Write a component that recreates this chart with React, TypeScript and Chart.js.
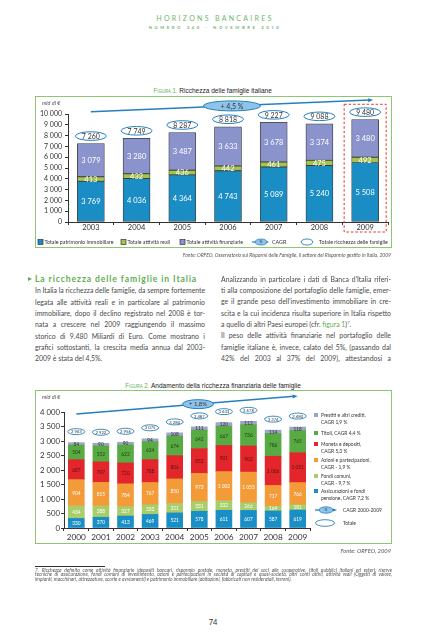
import React, { useEffect, useRef } from "react";
import { Chart, registerables } from "chart.js";
Chart.register(...registerables);

const FONT = "Lato, 'Open Sans', 'DejaVu Sans', sans-serif";

// ---------- Figura 1 data ----------
const years1 = ["2003", "2004", "2005", "2006", "2007", "2008", "2009"];
const immobiliare = [3769, 4036, 4364, 4743, 5089, 5240, 5508];
const attivitaReali = [413, 432, 436, 442, 461, 475, 492];
const attivitaFinanziarie = [3079, 3280, 3487, 3633, 3678, 3374, 3480];
const totaleRicchezza = [7260, 7749, 8287, 8818, 9227, 9088, 9480];
const cagrLabel1 = "+ 4,5 %";
const seriesNames1 = ["Totale patrimonio immobiliare", "Totale attività reali", "Totale attività finanziarie"];
const colors1 = ["#1b8dc5", "#a5c44c", "#8b93cd"];

// ---------- Figura 2 data ----------
const years2 = ["2000", "2001", "2002", "2003", "2004", "2005", "2006", "2007", "2008", "2009"];
const assicurazioni = [330, 370, 413, 469, 521, 578, 611, 607, 587, 619];
const fondiComuni = [434, 388, 327, 333, 321, 331, 332, 266, 164, 181];
const azioni = [904, 815, 784, 767, 850, 973, 1002, 1055, 717, 766];
const moneta = [687, 707, 720, 788, 806, 852, 901, 902, 1006, 1031];
const titoli = [504, 552, 622, 624, 674, 642, 667, 736, 786, 765];
const prestiti = [84, 90, 90, 94, 108, 111, 120, 112, 114, 118];
const totaleFinanziaria = [2943, 2922, 2956, 3075, 3280, 3487, 3633, 3678, 3374, 3480];
const cagrLabel2 = "+ 1,8%";
const seriesNames2 = ["Assicurazioni e fondi pensione", "Fondi comuni", "Azioni e partecipazioni", "Moneta e depositi", "Titoli", "Prestiti e altri crediti"];
const colors2 = ["#1a8fc6", "#a9cd6b", "#f29b38", "#e3262c", "#58ab42", "#9ea3c9"];
const labelColors2 = ["#ffffff", "#ffffff", "#ffffff", "#5a1010", "#1f3d12", "#333333"];
const legend2 = [
  { color: colors2[5], lines: ["Prestiti e altri crediti,", "CAGR 1,9 %"] },
  { color: colors2[4], lines: ["Titoli, CAGR 4,4 %"] },
  { color: colors2[3], lines: ["Moneta e depositi,", "CAGR 5,3 %"] },
  { color: colors2[2], lines: ["Azioni e partecipazioni,", "CAGR - 1,9 %"] },
  { color: colors2[1], lines: ["Fondi comuni,", "CAGR - 9,7 %"] },
  { color: colors2[0], lines: ["Assicurazioni e fondi", "pensione, CAGR 7,2 %"] },
];

const fmt = (n: number) =>
  n >= 1000 ? `${Math.floor(n / 1000)} ${String(n % 1000).padStart(3, "0")}` : String(n);

const BLUE_LINE = "#2580bd";

function drawEllipse(ctx: CanvasRenderingContext2D, cx: number, cy: number, rx: number, ry: number, fill: string | null, stroke: string | null, lw = 1) {
  ctx.beginPath();
  ctx.ellipse(cx, cy, rx, ry, 0, 0, Math.PI * 2);
  if (fill) { ctx.fillStyle = fill; ctx.fill(); }
  if (stroke) { ctx.strokeStyle = stroke; ctx.lineWidth = lw; ctx.stroke(); }
}

function drawArrow(ctx: CanvasRenderingContext2D, x1: number, y1: number, x2: number, y2: number, color: string, lw: number, head: number) {
  const a = Math.atan2(y2 - y1, x2 - x1);
  ctx.strokeStyle = color;
  ctx.lineWidth = lw;
  ctx.beginPath();
  ctx.moveTo(x1, y1);
  ctx.lineTo(x2 - Math.cos(a) * head * 0.7, y2 - Math.sin(a) * head * 0.7);
  ctx.stroke();
  ctx.fillStyle = color;
  ctx.beginPath();
  ctx.moveTo(x2, y2);
  ctx.lineTo(x2 - head * Math.cos(a) + head * 0.4 * Math.sin(a), y2 - head * Math.sin(a) - head * 0.4 * Math.cos(a));
  ctx.lineTo(x2 - head * Math.cos(a) - head * 0.4 * Math.sin(a), y2 - head * Math.sin(a) + head * 0.4 * Math.cos(a));
  ctx.closePath();
  ctx.fill();
}

const fig1Plugin = {
  id: "fig1",
  afterDatasetsDraw(chart: any) {
    const { ctx, chartArea } = chart;
    const x = chart.scales.x, y = chart.scales.y;
    ctx.save();
    ctx.textAlign = "center";
    ctx.textBaseline = "middle";
    chart.data.datasets.forEach((ds: any, di: number) => {
      chart.getDatasetMeta(di).data.forEach((el: any, i: number) => {
        ctx.fillStyle = "#ffffff";
        ctx.font = `7.5px ${FONT}`;
        ctx.fillText(fmt(ds.data[i]), el.x, (el.y + el.base) / 2 + 0.5);
      });
    });
    // highlight 2009
    const last = years1.length - 1;
    const hx = x.getPixelForValue(last);
    ctx.setLineDash([2.5, 2]);
    ctx.strokeStyle = "#e0342c";
    ctx.lineWidth = 1;
    ctx.strokeRect(hx - 21, y.getPixelForValue(10900), 42, chartArea.bottom + 10 - y.getPixelForValue(10900));
    ctx.setLineDash([]);
    // totals
    totaleRicchezza.forEach((v, i) => {
      const cx = x.getPixelForValue(i), cy = y.getPixelForValue(v) - 7.5;
      drawEllipse(ctx, cx, cy, 15.5, 4.3, "#ffffff", BLUE_LINE, 1);
      ctx.fillStyle = "#333";
      ctx.font = `7px ${FONT}`;
      ctx.fillText(fmt(v), cx, cy + 0.5);
    });
    // CAGR arrow
    const x1 = x.getPixelForValue(0), y1 = y.getPixelForValue(10200);
    const x2 = x.getPixelForValue(last) + 8, y2 = y.getPixelForValue(11300);
    drawArrow(ctx, x1, y1, x2, y2, BLUE_LINE, 1.5, 5);
    const mx = (x1 + x2) / 2, my = (y1 + y2) / 2;
    drawEllipse(ctx, mx, my, 28.5, 5, "#8ec4ea", BLUE_LINE, 1);
    ctx.fillStyle = "#333";
    ctx.font = `7px ${FONT}`;
    ctx.fillText(cagrLabel1, mx, my + 0.5);
    // legend
    const ly = chart.height - 6;
    const lx = [3, 86, 145];
    ctx.textAlign = "left";
    ctx.font = `5.3px ${FONT}`;
    seriesNames1.forEach((name, i) => {
      ctx.fillStyle = colors1[i];
      ctx.fillRect(lx[i], ly - 2.5, 5, 5);
      ctx.strokeStyle = "#333";
      ctx.lineWidth = 0.7;
      ctx.strokeRect(lx[i], ly - 2.5, 5, 5);
      ctx.fillStyle = "#333";
      ctx.fillText(name, lx[i] + 6.5, ly + 0.3);
    });
    drawArrow(ctx, 217, ly, 234, ly, BLUE_LINE, 1.2, 3.5);
    drawEllipse(ctx, 226, ly, 6, 3, "#8ec4ea", BLUE_LINE, 0.8);
    ctx.fillStyle = "#333";
    ctx.font = `3.5px ${FONT}`;
    ctx.textAlign = "center";
    ctx.fillText("%", 226, ly + 0.3);
    ctx.textAlign = "left";
    ctx.font = `5.3px ${FONT}`;
    ctx.fillText("CAGR", 237, ly + 0.3);
    drawEllipse(ctx, 272, ly, 5.8, 3, "#ffffff", BLUE_LINE, 0.9);
    ctx.fillStyle = "#333";
    ctx.fillText("Totale ricchezza delle famiglie", 284, ly + 0.3);
    ctx.restore();
  },
};

const fig2Plugin = {
  id: "fig2",
  afterDatasetsDraw(chart: any) {
    const { ctx } = chart;
    const x = chart.scales.x, y = chart.scales.y;
    ctx.save();
    ctx.textAlign = "center";
    ctx.textBaseline = "middle";
    chart.data.datasets.forEach((ds: any, di: number) => {
      chart.getDatasetMeta(di).data.forEach((el: any, i: number) => {
        ctx.fillStyle = labelColors2[di];
        ctx.font = `4.8px ${FONT}`;
        ctx.fillText(fmt(ds.data[i]), el.x, (el.y + el.base) / 2 + 0.3);
      });
    });
    totaleFinanziaria.forEach((v, i) => {
      const cx = x.getPixelForValue(i), cy = y.getPixelForValue(v) - 11;
      drawEllipse(ctx, cx, cy, 8.5, 3, "#ffffff", BLUE_LINE, 0.9);
      ctx.fillStyle = "#333";
      ctx.font = `4.2px ${FONT}`;
      ctx.fillText(fmt(v), cx, cy + 0.3);
    });
    const last = years2.length - 1;
    const x1 = x.getPixelForValue(0), y1 = y.getPixelForValue(3930);
    const x2 = x.getPixelForValue(last), y2 = y.getPixelForValue(4550);
    drawArrow(ctx, x1, y1, x2, y2, BLUE_LINE, 1.5, 5);
    const t = 0.55;
    const mx = x1 + (x2 - x1) * t, my = y1 + (y2 - y1) * t;
    drawEllipse(ctx, mx, my, 15.5, 4.5, "#8ec4ea", BLUE_LINE, 1);
    ctx.fillStyle = "#333";
    ctx.font = `6px ${FONT}`;
    ctx.fillText(cagrLabel2, mx, my + 0.4);
    // legend
    const ly = [25, 43, 54, 70, 86, 101];
    ctx.textAlign = "left";
    ctx.font = `4.9px ${FONT}`;
    legend2.forEach((item, i) => {
      ctx.fillStyle = item.color;
      ctx.fillRect(279, ly[i] - 2, 4, 4);
      ctx.fillStyle = "#333";
      item.lines.forEach((ln, j) => ctx.fillText(ln, 286, ly[i] + j * 7.6 + 0.3));
    });
    drawArrow(ctx, 280, 120, 302, 120, BLUE_LINE, 1.3, 4);
    drawEllipse(ctx, 291, 120, 7, 3.2, "#8ec4ea", BLUE_LINE, 0.8);
    ctx.fillStyle = "#333";
    ctx.font = `3.5px ${FONT}`;
    ctx.textAlign = "center";
    ctx.fillText("%", 291, 120.3);
    ctx.textAlign = "left";
    ctx.font = `4.9px ${FONT}`;
    ctx.fillText("CAGR 2000-2009", 308, 120.3);
    drawEllipse(ctx, 290, 133, 9.5, 3.3, "#ffffff", BLUE_LINE, 0.9);
    ctx.fillStyle = "#333";
    ctx.fillText("Totale", 308, 133.3);
    ctx.restore();
  },
};

function makeConfig1(): any {
  return {
    type: "bar",
    data: {
      labels: years1,
      datasets: [immobiliare, attivitaReali, attivitaFinanziarie].map((d, i) => ({
        label: seriesNames1[i],
        data: d,
        backgroundColor: colors1[i],
        borderColor: "#3c3c3c",
        borderWidth: 0.8,
        borderSkipped: false,
        barThickness: 27,
      })),
    },
    options: {
      animation: false,
      responsive: false,
      maintainAspectRatio: false,
      layout: { padding: { top: 18, bottom: 14, left: 0, right: 4 } },
      plugins: { legend: { display: false }, tooltip: { enabled: false } },
      scales: {
        x: {
          stacked: true,
          grid: { drawOnChartArea: false, drawTicks: true, tickLength: 3, color: "#333" },
          border: { color: "#333", width: 1 },
          ticks: { font: { family: FONT, size: 7.5 }, color: "#333", padding: -2, autoSkip: false, maxRotation: 0, minRotation: 0 },
          afterFit: (s: any) => { s.height = 12; },
        },
        y: {
          stacked: true,
          min: 0,
          max: 10000,
          ticks: { stepSize: 1000, autoSkip: false, callback: (v: any) => fmt(Number(v)), font: { family: FONT, size: 7 }, color: "#333", padding: 3 },
          grid: { drawOnChartArea: false, tickLength: 3, color: "#333" },
          border: { color: "#333", width: 1 },
          afterFit: (s: any) => { s.width = 33; },
        },
      },
    },
    plugins: [fig1Plugin],
  };
}

function makeConfig2(): any {
  return {
    type: "bar",
    data: {
      labels: years2,
      datasets: [assicurazioni, fondiComuni, azioni, moneta, titoli, prestiti].map((d, i) => ({
        label: seriesNames2[i],
        data: d,
        backgroundColor: colors2[i],
        borderWidth: 0,
        barThickness: 16,
      })),
    },
    options: {
      animation: false,
      responsive: false,
      maintainAspectRatio: false,
      layout: { padding: { top: 22, bottom: 0, left: 0, right: 82 } },
      plugins: { legend: { display: false }, tooltip: { enabled: false } },
      scales: {
        x: {
          stacked: true,
          grid: { drawOnChartArea: false, drawTicks: true, tickLength: 3, color: "#333" },
          border: { color: "#333", width: 1 },
          ticks: { font: { family: FONT, size: 8.3 }, color: "#333", padding: 1, autoSkip: false, maxRotation: 0, minRotation: 0 },
          afterFit: (s: any) => { s.height = 16; },
        },
        y: {
          stacked: true,
          min: 0,
          max: 4000,
          ticks: { stepSize: 500, autoSkip: false, callback: (v: any) => fmt(Number(v)), font: { family: FONT, size: 7.8 }, color: "#333", padding: 1 },
          grid: { drawOnChartArea: false, tickLength: 3, color: "#333" },
          border: { color: "#333", width: 1 },
          afterFit: (s: any) => { s.width = 29; },
        },
      },
    },
    plugins: [fig2Plugin],
  };
}

function ChartCanvas({ make, left, top, width, height }: any) {
  const ref = useRef<HTMLCanvasElement>(null);
  useEffect(() => {
    const chart = new Chart(ref.current as HTMLCanvasElement, make());
    return () => chart.destroy();
  }, []);
  return (
    <canvas
      ref={ref}
      width={width}
      height={height}
      style={{ position: "absolute", left, top, width, height }}
    />
  );
}

const GREEN = "#5fae52";
const TEXT = "#4a4a4a";

function TextLine({ x, y, w, children, just = true, size = 6.9, lh = 11 }: any) {
  return (
    <div
      style={{
        position: "absolute",
        left: x,
        top: y - lh / 2,
        width: w,
        height: lh,
        lineHeight: `${lh}px`,
        fontSize: size,
        fontFamily: FONT,
        color: TEXT,
        whiteSpace: "nowrap",
        textAlign: just ? "justify" : "left",
        textAlignLast: just ? "justify" : "left",
      } as any}
    >
      {children}
    </div>
  );
}

const leftLines = [
  "In Italia la ricchezza delle famiglie, da sempre fortemente",
  "legata alle attività reali e in particolare al patrimonio",
  "immobiliare, dopo il declino registrato nel 2008 è tor-",
  "nata a crescere nel 2009 raggiungendo il massimo",
  "storico di 9.480 Miliardi di Euro. Come mostrano i",
  "grafici sottostanti, la crescita media annua dal 2003-",
  "2009 è stata del 4,5%.",
];

const rightLinesA = [
  "Analizzando in particolare i dati di Banca d’Italia riferi-",
  "ti alla composizione del portafoglio delle famiglie, emer-",
  "ge il grande peso dell’investimento immobiliare in cre-",
  "scita e la cui incidenza risulta superiore in Italia rispetto",
];
const rightLinesB = [
  "Il peso delle attività finanziarie nel portafoglio delle",
  "famiglie italiane è, invece, calato del 5%, (passando dal",
  "42% del 2003 al 37% del 2009), attestandosi a",
];

const footLines = [
  "7. Ricchezza definita come attività finanziarie (depositi bancari, risparmio postale, moneta, prestiti dei soci alle cooperative, titoli pubblici italiani ed esteri, riserve",
  "tecniche di assicurazione, fondi comuni di investimento, azioni e partecipazioni in società di capitali e quasi-società, altri conti attivi, attività reali (Oggetti di valore,",
  "impianti, macchinari, attrezzature, scorte e avviamenti) e patrimonio immobiliare (abitazioni, fabbricati non residenziali, terreni).",
];

function FigTitle({ y, num, title }: any) {
  return (
    <div style={{ position: "absolute", left: 0, top: y - 6, width: 426, height: 12, lineHeight: "12px", textAlign: "center", fontFamily: "'Liberation Sans', Arial, sans-serif", whiteSpace: "nowrap" }}>
      <span style={{ display: "inline-block", transform: "scaleX(0.86)" }}>
        <span style={{ color: GREEN, fontSize: 7, fontVariant: "small-caps" }}>{`Figura ${num}. `}</span>
        <span style={{ color: "#222", fontSize: 7.6 }}>{title}</span>
      </span>
    </div>
  );
}

function Small({ x, y, right, children, size = 5.5, italic = true }: any) {
  const style: any = {
    position: "absolute",
    top: y - 4,
    height: 8,
    lineHeight: "8px",
    fontSize: size,
    fontFamily: FONT,
    fontStyle: italic ? "italic" : "normal",
    color: "#555",
    whiteSpace: "nowrap",
  };
  if (right !== undefined) { style.right = 426 - right; } else { style.left = x; }
  return <div style={style}>{children}</div>;
}

export default function App() {
  const ls = 11.33;
  return (
    <div style={{ position: "absolute", left: 0, top: 0, width: 426, height: 640, background: "#fff", overflow: "hidden" }}>
      {/* header */}
      <div style={{ position: "absolute", left: 0, top: 13, width: 426, height: 10, lineHeight: "10px", textAlign: "center", fontFamily: FONT, fontSize: 7, letterSpacing: 2.3, paddingLeft: 2, color: "#6db86a" }}>
        HORIZONS BANCAIRES
      </div>
      <div style={{ position: "absolute", left: 0, top: 25, width: 426, height: 6, lineHeight: "6px", textAlign: "center", fontFamily: FONT, fontSize: 4.2, fontWeight: 700, letterSpacing: 2.6, paddingLeft: 2, color: "#6db86a" }}>
        NUMERO 340 - NOVEMBRE 2010
      </div>

      {/* Figura 1 */}
      <FigTitle y={88} num={1} title="Ricchezza delle famiglie italiane" />
      <ChartCanvas make={makeConfig1} left={35} top={96} width={357} height={152} />
      <div style={{ position: "absolute", left: 35, top: 96, width: 357, height: 152, boxSizing: "border-box", border: "1.5px solid #8cc873", pointerEvents: "none" }} />
      <Small x={42} y={103}>mld di €</Small>
      <Small right={391} y={255} size={5}>
        Fonte: ORFEO, Osservatorio sui Risparmi delle Famiglie, il settore del Risparmio gestito in Italia, 2009
      </Small>

      {/* text */}
      <div style={{ position: "absolute", left: 28, top: 276.5, width: 0, height: 0, borderLeft: `4px solid ${GREEN}`, borderTop: "2.7px solid transparent", borderBottom: "2.7px solid transparent" }} />
      <div style={{ position: "absolute", left: 35, top: 273, height: 12, lineHeight: "12px", fontFamily: FONT, fontWeight: 700, fontSize: 8.6, letterSpacing: 0.9, color: GREEN, whiteSpace: "nowrap" }}>
        La ricchezza delle famiglie in Italia
      </div>
      {leftLines.map((t, i) => (
        <TextLine key={"l" + i} x={35} y={290.7 + i * ls} w={170} just={i < leftLines.length - 1}>{t}</TextLine>
      ))}
      {rightLinesA.map((t, i) => (
        <TextLine key={"ra" + i} x={221} y={279.3 + i * ls} w={170}>{t}</TextLine>
      ))}
      <TextLine x={221} y={279.3 + 4 * ls} w={170} just={false}>
        a quello di altri Paesi europei (cfr. <span style={{ color: GREEN }}>figura 1</span>)<sup style={{ fontSize: 4, lineHeight: 0 }}>7</sup>.
      </TextLine>
      {rightLinesB.map((t, i) => (
        <TextLine key={"rb" + i} x={221} y={279.3 + (5 + i) * ls} w={170}>{t}</TextLine>
      ))}

      {/* Figura 2 */}
      <FigTitle y={383.3} num={2} title="Andamento della ricchezza finanziaria delle famiglie" />
      <ChartCanvas make={makeConfig2} left={35} top={390} width={357} height={154} />
      <div style={{ position: "absolute", left: 35, top: 390, width: 357, height: 154, boxSizing: "border-box", border: "1.5px solid #8cc873", pointerEvents: "none" }} />
      <Small x={42} y={397}>mld di €</Small>
      <Small right={391} y={551} size={5.8}>Fonte: ORFEO, 2009</Small>

      {/* footnote */}
      <div style={{ position: "absolute", left: 35, top: 565.5, width: 70, height: 0, borderTop: "1px solid #333" }} />
      {footLines.map((t, i) => (
        <div key={"f" + i} style={{ position: "absolute", left: 35, top: 570 + i * 4.35 - 2.2, width: 357, height: 4.4, lineHeight: "4.4px", fontSize: 4.9, fontStyle: "italic", fontFamily: FONT, color: "#555", textAlign: "justify", textAlignLast: i < 2 ? "justify" : "left", whiteSpace: "nowrap" } as any}>
          {t}
        </div>
      ))}

      <div style={{ position: "absolute", left: 0, top: 618, width: 426, height: 10, lineHeight: "10px", textAlign: "center", fontFamily: FONT, fontSize: 7.5, color: "#333" }}>74</div>
    </div>
  );
}
